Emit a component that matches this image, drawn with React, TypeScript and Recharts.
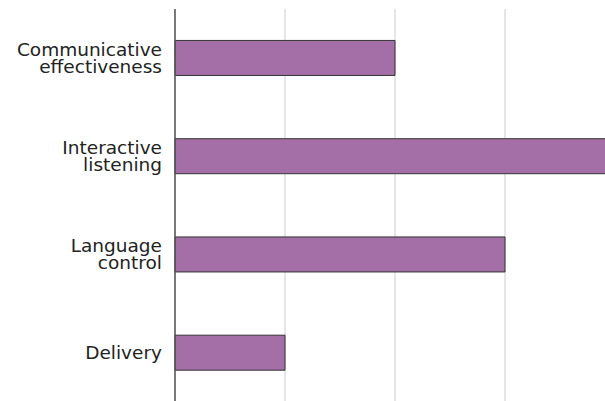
import { Bar, BarChart, CartesianGrid, XAxis, YAxis } from "recharts";

const categories = [
  "Communicative effectiveness",
  "Interactive listening",
  "Language control",
  "Delivery",
];
const scores = [2, 4, 3, 1];
const xTicks = [0, 1, 2, 3, 4];

const data = categories.map((name, i) => ({ name, score: scores[i] }));

function LabelTick({ x, y, payload }: any) {
  const lines = String(payload.value).split(" ");
  const lh = 17;
  const start = -((lines.length - 1) * lh) / 2;
  return (
    <text
      x={x}
      y={y}
      textAnchor="end"
      fill="#222"
      fontSize={18.5}
      fontFamily="'DejaVu Sans', sans-serif"
    >
      {lines.map((l, i) => (
        <tspan key={l} x={x} dy={i === 0 ? start + 6 : lh}>
          {l}
        </tspan>
      ))}
    </text>
  );
}

export default function App() {
  return (
    <div
      style={{
        position: "absolute",
        left: 0,
        top: 0,
        width: 605,
        height: 401,
        overflow: "hidden",
        background: "#fff",
      }}
    >
      <BarChart
        width={616}
        height={402}
        data={data}
        layout="vertical"
        margin={{ top: 9, right: 1, bottom: 0, left: 0 }}
        barCategoryGap="32%"
      >
        <CartesianGrid horizontal={false} stroke="#cccccc" />
        <XAxis type="number" domain={[0, 4]} ticks={xTicks} hide />
        <YAxis
          type="category"
          dataKey="name"
          width={175}
          tick={<LabelTick />}
          tickLine={false}
          tickMargin={7}
          axisLine={{ stroke: "#555", strokeWidth: 1.5 }}
          interval={0}
        />
        <Bar
          dataKey="score"
          fill="#a36fa6"
          stroke="#333"
          strokeWidth={1}
          isAnimationActive={false}
        />
      </BarChart>
    </div>
  );
}
